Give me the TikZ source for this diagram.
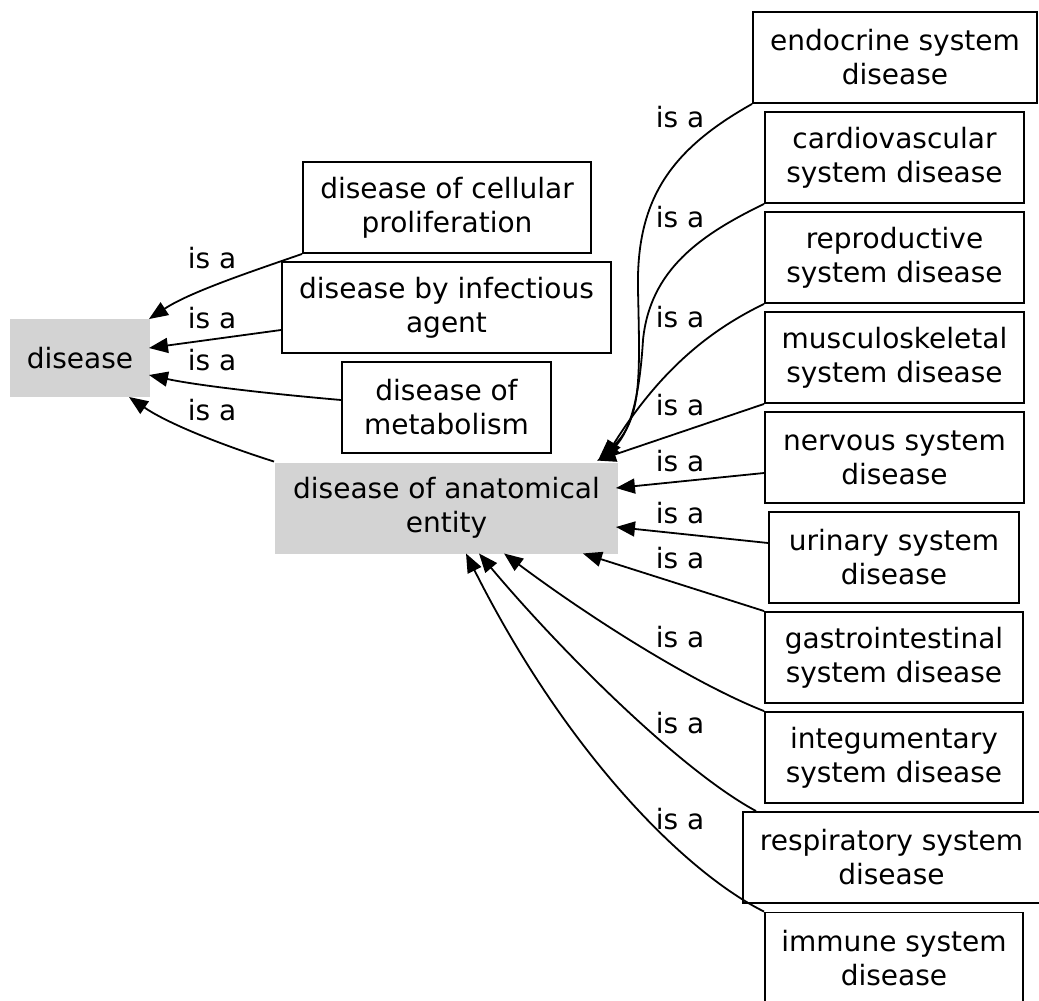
\documentclass[tikz,border=0pt]{standalone}
\usepackage{fontspec}
\setmainfont{DejaVu Sans}
\usepackage{xcolor}
\usetikzlibrary{arrows.meta}
\definecolor{nodegray}{HTML}{D3D3D3}

\begin{document}
\begin{tikzpicture}[x=1pt, y=-1pt,
    term/.style={draw, line width=1.9pt, align=center, inner sep=0pt, minimum height=91pt, font=\fontsize{28}{34}\selectfont},
    rootterm/.style={term, draw=none, fill=nodegray},
    isalabel/.style={inner sep=0pt, font=\fontsize{28}{34}\selectfont},
    isa/.style={line width=1.8pt, -{Triangle[length=19pt, width=15pt]}}]
        \useasboundingbox (0,0) rectangle (1039,1001);

        \node[rootterm, minimum width=140pt, minimum height=78pt] (disease) at (80, 358) {disease};
        \node[rootterm, minimum width=343pt] (anat) at (446.5, 508) {disease of anatomical\\entity};

        \node[term, minimum width=288pt] (cell) at (447, 207.5) {disease of cellular\\proliferation};
        \node[term, minimum width=329pt] (infect) at (446.5, 307.5) {disease by infectious\\agent};
        \node[term, minimum width=209pt] (metab) at (446.5, 407.5) {disease of\\metabolism};

        \node[term, minimum width=284pt] (endo) at (895, 57.5) {endocrine system\\disease};
        \node[term, minimum width=259pt] (cardio) at (894.5, 157.5) {cardiovascular\\system disease};
        \node[term, minimum width=259pt] (repro) at (894.5, 257.5) {reproductive\\system disease};
        \node[term, minimum width=259pt] (musculo) at (894.5, 357.5) {musculoskeletal\\system disease};
        \node[term, minimum width=259pt] (nerv) at (894.5, 457.5) {nervous system\\disease};
        \node[term, minimum width=250pt] (urin) at (894, 557.5) {urinary system\\disease};
        \node[term, minimum width=258pt] (gastro) at (894, 657.5) {gastrointestinal\\system disease};
        \node[term, minimum width=258pt] (integ) at (894, 757.5) {integumentary\\system disease};
        \node[term, minimum width=297pt] (resp) at (891.5, 857.5) {respiratory system\\disease};
        \node[term, minimum width=258pt] (immune) at (894, 958) {immune system\\disease};

        \node[isalabel] (l1) at (212, 258) {is a};
        \node[isalabel] (l2) at (212, 318) {is a};
        \node[isalabel] (l3) at (212, 360) {is a};
        \node[isalabel] (l4) at (212, 410) {is a};
        \node[isalabel] (l5) at (680, 117) {is a};
        \node[isalabel] (l6) at (680, 217) {is a};
        \node[isalabel] (l7) at (680, 317) {is a};
        \node[isalabel] (l8) at (680, 405) {is a};
        \node[isalabel] (l9) at (680, 461) {is a};
        \node[isalabel] (l10) at (680, 513) {is a};
        \node[isalabel] (l11) at (680, 558) {is a};
        \node[isalabel] (l12) at (680, 637) {is a};
        \node[isalabel] (l13) at (680, 723) {is a};
        \node[isalabel] (l14) at (680, 819) {is a};

        \draw[isa] (cell.south west) .. controls (250, 272) and (190, 292) .. ([xshift=-2pt, yshift=-1pt]disease.north east);
        \draw[isa] ([yshift=-22.5pt]infect.west) -- ([xshift=-2pt, yshift=10pt]disease.east);
        \draw[isa] ([yshift=7.5pt]metab.west) .. controls (250, 392) and (190, 384) .. ([xshift=-2pt, yshift=-17pt]disease.east);
        \draw[isa] (anat.north west) .. controls (228, 447) and (170, 425) .. ([xshift=-22pt, yshift=1pt]disease.south east);

        \draw[isa] (endo.south west) .. controls (670, 150) and (636, 200) .. (638, 290) .. controls (640, 380) and (642, 420) .. ([xshift=-21pt, yshift=1pt]anat.north east);
        \draw[isa] (cardio.south west) .. controls (700, 235) and (650, 270) .. (643, 340) .. controls (640, 390) and (632, 430) .. ([xshift=-18pt, yshift=1pt]anat.north east);
        \draw[isa] (repro.south west) .. controls (710, 330) and (660, 370) .. ([xshift=-15pt, yshift=2pt]anat.north east);
        \draw[isa] (musculo.south west) -- ([xshift=-22pt, yshift=1pt]anat.north east);
        \draw[isa] ([yshift=-15.5pt]nerv.west) -- ([xshift=-3pt, yshift=20pt]anat.east);
        \draw[isa] ([yshift=14.5pt]urin.west) -- ([xshift=-3pt, yshift=-19pt]anat.east);
        \draw[isa] (gastro.north west) -- ([xshift=-36pt, yshift=1pt]anat.south east);
        \draw[isa] (integ.north west) .. controls (700, 686) and (600, 625) .. ([xshift=57.5pt, yshift=1pt]anat.south);
        \draw[isa] ([xshift=14pt]resp.north west) .. controls (680, 770) and (560, 650) .. ([xshift=32.5pt, yshift=1pt]anat.south);
        \draw[isa] (immune.north west) .. controls (690, 875) and (570, 760) .. ([xshift=19.5pt, yshift=1pt]anat.south);
    \end{tikzpicture}
\end{document}
